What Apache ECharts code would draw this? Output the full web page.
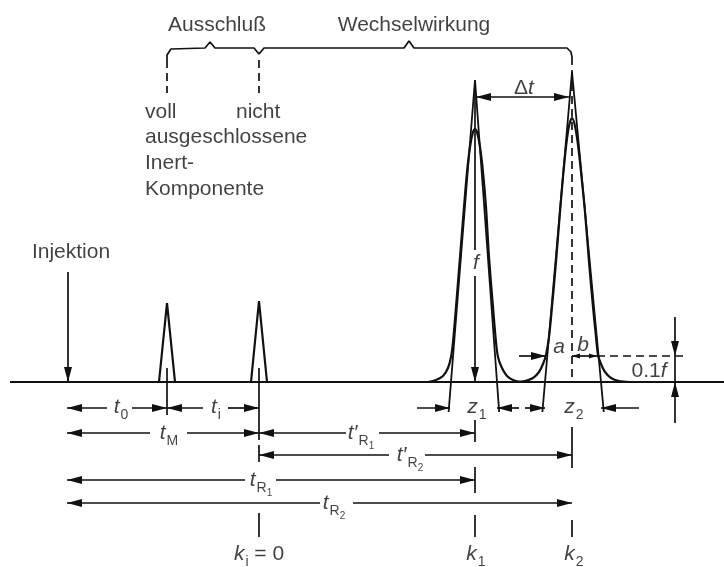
<!DOCTYPE html>
<html><head><meta charset="utf-8">
<script src="https://cdn.jsdelivr.net/npm/echarts@6/dist/echarts.min.js"></script>
<style>html,body{margin:0;padding:0;background:#fff}#c{width:724px;height:567px}</style>
</head><body><div id="c"></div>
<script>
// ---- data (time on x, detector signal on y; baseline = 0) ----
const baseline = [[10, 0], [724, 0]];
const peakFull = [[159, 0], [167, 79], [175, 0]];           // voll ausgeschlossen
const peakInert = [[251, 0], [259, 81], [267, 0]];          // nicht ausgeschlossen (Inert)
const peak1 = [[428,0],[436,2],[443,6],[448,14],[451,25],[453,40],[456,75],[460,125],[464,175],[467,210],[470,235],[473,250],[475,253],[477,250],[480,235],[483,210],[486,175],[489,125],[493,75],[496,40],[498,25],[502,14],[507,6],[513,2],[520,0]];
const peak2 = [[515,0],[525,1],[533,4],[539,10],[543,18],[546,27],[549,45],[552,75],[556,120],[560,170],[563,205],[566,235],[569,256],[572,264],[575,256],[578,237],[581,210],[585,170],[589,120],[593,75],[596,45],[598,27],[601,18],[605,10],[611,4],[619,1],[630,0]];
const tangent1 = [[448.6, -30], [475, 302], [499.2, -30]];
const tangent2 = [[542.4, -30], [572, 310], [603.8, -30]];
const bracket = [[167,322],[167,327],[171,333],[205,334],[210,340],[215,334],[254,334],[259,328],[264,334],[404,334],[409,341],[414,334],[567,334],[571,330],[572,325]];

// ---- annotation lines [x1,y1,x2,y2] ----
const arrowEnd = [
  [68,110,68,0],
  [107,-26,67,-26],[132,-26,167,-26],[203,-26,167,-26],[228,-26,259,-26],
  [150,-51,67,-51],[187,-51,259,-51],[346,-51,259,-51],[379,-51,475,-51],
  [389,-73,259,-73],[425,-73,572,-73],
  [245,-98,67,-98],[276,-98,475,-98],
  [320,-121,67,-121],[353,-121,572,-121],
  [417,-26,450,-26],[519,-26,497,-26],[525,-26,545,-26],[639,-26,601,-26],
  [519,26,546,26],
  [675,65,675,26],[675,-41,675,0],
  [475,106,475,0]
];
const arrowBoth = [[476,285,569,285]];
const arrowSmallBoth = [[572,26,597,26]];
const plainLines = [
  [475,292,475,132],[675,26,675,0],
  [167,14,167,-33],[259,14,259,-58],[259,-63,259,-80],
  [475,-38,475,-60],[572,-45,572,-86],[475,-85,475,-111],
  [259,-131,259,-155],[475,-133,475,-155],[572,-138,572,-155]
];
const dashedLines = [[167,322,167,289],[259,322,259,289],[572,325,572,0],[597,26,685,26]];

// ---- text labels: centred [x, y, text] and left-anchored [x, y, text] ----
const centerLabels = [
  [217, 357, 'Ausschluß'],
  [414, 357, 'Wechselwirkung'],
  [71, 130, 'Injektion'],
  [524, 294, '{n|Δ}{i|t}'],
  [476, 119, '{i|f}'],
  [559, 35, '{i|a}'],
  [583, 37, '{i|b}'],
  [649, 11, '{n|0.1}{i|f}'],
  [121, -25, '{i|t}{s|0}'],
  [216, -25, '{i|t}{s|i}'],
  [169, -51, '{i|t}{s|M}'],
  [361, -51, "{i|t′}{s|R}{ss|1}"],
  [410, -73, "{i|t′}{s|R}{ss|2}"],
  [261, -98, '{i|t}{s|R}{ss|1}'],
  [334, -121, '{i|t}{s|R}{ss|2}'],
  [477, -25, '{i|z}{s|1}'],
  [574, -25, '{i|z}{s|2}'],
  [259, -172, '{i|k}{s|i}{n| = 0}'],
  [476, -172, '{i|k}{s|1}'],
  [574, -172, '{i|k}{s|2}']
];
const leftLabels = [
  [145, 270, 'voll'],
  [236, 270, 'nicht'],
  [145, 245, 'ausgeschlossene'],
  [145, 219, 'Inert-'],
  [145, 193, 'Komponente']
];

const INK = '#111111';
const FONT = '"Liberation Sans", Arial, Helvetica, sans-serif';
const rich = {
  n: {fontSize: 21, fontFamily: FONT, color: INK, lineHeight: 24},
  i: {fontSize: 21, fontFamily: FONT, fontStyle: 'italic', color: INK, lineHeight: 24},
  s: {fontSize: 14, fontFamily: FONT, color: INK, lineHeight: 14, padding: [16, 0, 0, 1]},
  ss: {fontSize: 10, fontFamily: FONT, color: INK, lineHeight: 10, padding: [27, 0, 0, 0]}
};
function wrap(t) { return t.indexOf('{') === 0 ? t : '{n|' + t + '}'; }

function ml(list, startSym, endSym, size, style) {
  const off = [0, size[1] / 2];
  return {
    silent: true, animation: false,
    label: {show: false},
    lineStyle: Object.assign({color: INK, width: 1.7, type: 'solid', opacity: 1}, style || {}),
    emphasis: {disabled: true},
    data: list.map(s => [
      {coord: [s[0], s[1]], symbol: startSym, symbolSize: size, symbolOffset: off},
      {coord: [s[2], s[3]], symbol: endSym, symbolSize: size, symbolOffset: off}
    ])
  };
}
function lineSeries(data, width, smooth) {
  return {type: 'line', data: data, symbol: 'none', smooth: smooth || false,
    lineStyle: {color: INK, width: width}, silent: true, animation: false, z: 3};
}

const chart = echarts.init(document.getElementById('c'), null, {renderer: 'canvas'});
chart.setOption({
  backgroundColor: '#ffffff',
  animation: false,
  grid: {left: 0, right: 0, top: 0, bottom: 0},
  xAxis: {type: 'value', min: 0, max: 724, show: false},
  yAxis: {type: 'value', min: -185, max: 382, show: false},
  series: [
    lineSeries(baseline, 2.2),
    lineSeries(peakFull, 2.2),
    lineSeries(peakInert, 2.2),
    lineSeries(peak1, 2.2, 0.3),
    lineSeries(peak2, 2.2, 0.3),
    lineSeries(tangent1, 1.8),
    lineSeries(tangent2, 1.8),
    lineSeries(bracket, 1.7),
    {type: 'line', data: [], markLine: ml(arrowEnd, 'none', 'triangle', [8, 15])},
    {type: 'line', data: [], markLine: ml(arrowBoth, 'triangle', 'triangle', [8, 15])},
    {type: 'line', data: [], markLine: ml(arrowSmallBoth, 'triangle', 'triangle', [5, 8])},
    {type: 'line', data: [], markLine: ml(plainLines, 'none', 'none', [1, 1])},
    {type: 'line', data: [], markLine: ml(dashedLines, 'none', 'none', [1, 1], {type: [8, 5]})},
    {
      type: 'scatter', symbolSize: 0, silent: true, animation: false,
      data: centerLabels.map(l => ({value: [l[0], l[1]], label: {formatter: wrap(l[2])}})),
      label: {show: true, position: 'inside', rich: rich, color: INK}
    },
    {
      type: 'scatter', symbolSize: 0, silent: true, animation: false,
      data: leftLabels.map(l => ({value: [l[0], l[1]], label: {formatter: wrap(l[2])}})),
      label: {show: true, position: 'right', distance: 0, rich: rich, color: INK}
    }
  ]
});
</script>
</body></html>
